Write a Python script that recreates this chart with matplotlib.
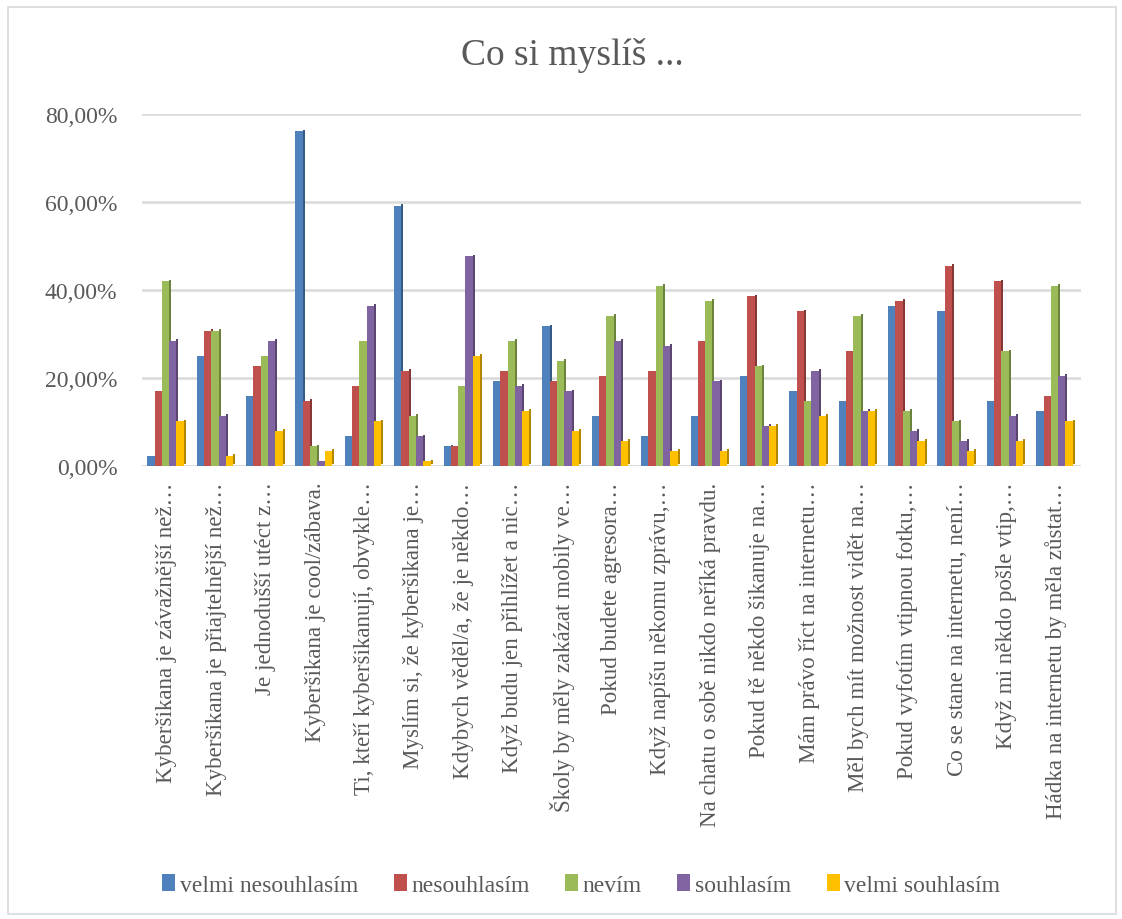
import matplotlib
matplotlib.use("Agg")
import matplotlib.pyplot as plt
import numpy as np
from matplotlib.patches import Rectangle
from matplotlib.colors import to_rgb

plt.rcParams['font.family'] = ['Liberation Serif', 'DejaVu Serif']

# ---- data (percent) ----
categories = [
    "Kyberšikana je závažnější než…",
    "Kyberšikana je přiajtelnější než…",
    "Je jednodušší utéct z…",
    "Kyberšikana je cool/zábava.",
    "Ti, kteří kyberšikanují, obvykle…",
    "Myslím si, že kyberšikana je…",
    "Kdybych věděl/a, že je někdo…",
    "Když budu jen přihlížet a nic…",
    "Školy by měly zakázat mobily ve…",
    "Pokud budete agresora…",
    "Když napíšu někomu zprávu,…",
    "Na chatu o sobě nikdo neříká pravdu.",
    "Pokud tě někdo šikanuje na…",
    "Mám právo říct na internetu…",
    "Měl bych mít možnost vidět na…",
    "Pokud vyfotím vtipnou fotku,…",
    "Co se stane na internetu, není…",
    "Když mi někdo pošle vtip,…",
    "Hádka na internetu by měla zůstat…",
]
series_names = ["velmi nesouhlasím", "nesouhlasím", "nevím", "souhlasím", "velmi souhlasím"]

velmi_nesouhlasim = [2.3, 25.0, 15.9, 76.1, 6.8, 59.1, 4.5, 19.3, 31.8, 11.4, 6.8, 11.4, 20.5, 17.0, 14.8, 36.4, 35.2, 14.8, 12.5]
nesouhlasim = [17.0, 30.7, 22.7, 14.8, 18.2, 21.6, 4.5, 21.6, 19.3, 20.5, 21.6, 28.4, 38.6, 35.2, 26.1, 37.5, 45.5, 42.0, 15.9]
nevim = [42.0, 30.7, 25.0, 4.5, 28.4, 11.4, 18.2, 28.4, 23.9, 34.1, 40.9, 37.5, 22.7, 14.8, 34.1, 12.5, 10.2, 26.1, 40.9]
souhlasim = [28.4, 11.4, 28.4, 1.1, 36.4, 6.8, 47.7, 18.2, 17.0, 28.4, 27.3, 19.3, 9.1, 21.6, 12.5, 8.0, 5.7, 11.4, 20.5]
velmi_souhlasim = [10.2, 2.3, 8.0, 3.4, 10.2, 1.1, 25.0, 12.5, 8.0, 5.7, 3.4, 3.4, 9.1, 11.4, 12.5, 5.7, 3.4, 5.7, 10.2]

series = [velmi_nesouhlasim, nesouhlasim, nevim, souhlasim, velmi_souhlasim]
colors = ["#4F81BD", "#C0504D", "#9BBB59", "#8064A2", "#FFC000"]

# ---- figure ----
fig = plt.figure(figsize=(11.22, 9.2), dpi=100)
ax = fig.add_axes([0.1268, 0.4924, 0.8364, 0.3826])

# chart border
fig.patches.append(Rectangle((0.007, 0.005), 0.988, 0.986, transform=fig.transFigure,
                             fill=False, edgecolor="#D9D9D9", lw=1.2))

x = np.arange(len(categories))
bw = 0.148
side = 0.04
for i, (vals, c) in enumerate(zip(series, colors)):
    pos = x - 0.4 + bw / 2 + i * bw
    dark = tuple(v * 0.7 for v in to_rgb(c))
    # side face for a light 3D look
    ax.bar(pos + bw / 2 + side / 2, vals, width=side, color=dark, bottom=0.35, zorder=2)
    ax.bar(pos, vals, width=bw, color=c, label=series_names[i], zorder=3)

ax.set_xlim(-0.5, len(categories) - 0.5)
ax.set_ylim(0, 80)
ax.set_yticks([0, 20, 40, 60, 80])
ax.set_yticklabels(["0,00%", "20,00%", "40,00%", "60,00%", "80,00%"])
ax.yaxis.grid(True, color="#D9D9D9", lw=1.8, zorder=0)
ax.set_axisbelow(True)
for s in ax.spines.values():
    s.set_visible(False)
ax.axhline(0, color="#D9D9D9", lw=1.8, zorder=1)

ax.set_xticks(x)
ax.set_xticklabels(categories, rotation=90, ha="center", va="top")
ax.tick_params(axis="x", length=0, pad=11, labelsize=16.6, labelcolor="#595959")
ax.tick_params(axis="y", length=0, pad=18, labelsize=17, labelcolor="#595959")

fig.text(0.51, 0.94, "Co si myslíš ...", ha="center", va="center", fontsize=27, color="#595959")

handles, labels = ax.get_legend_handles_labels()
fig.legend(handles, labels, loc="center", bbox_to_anchor=(0.518, 0.037), ncol=5,
           frameon=False, fontsize=17, handlelength=0.55, handleheight=0.7,
           handletextpad=0.2, columnspacing=1.5, labelcolor="#595959")

fig.savefig("out.png", dpi=100)
